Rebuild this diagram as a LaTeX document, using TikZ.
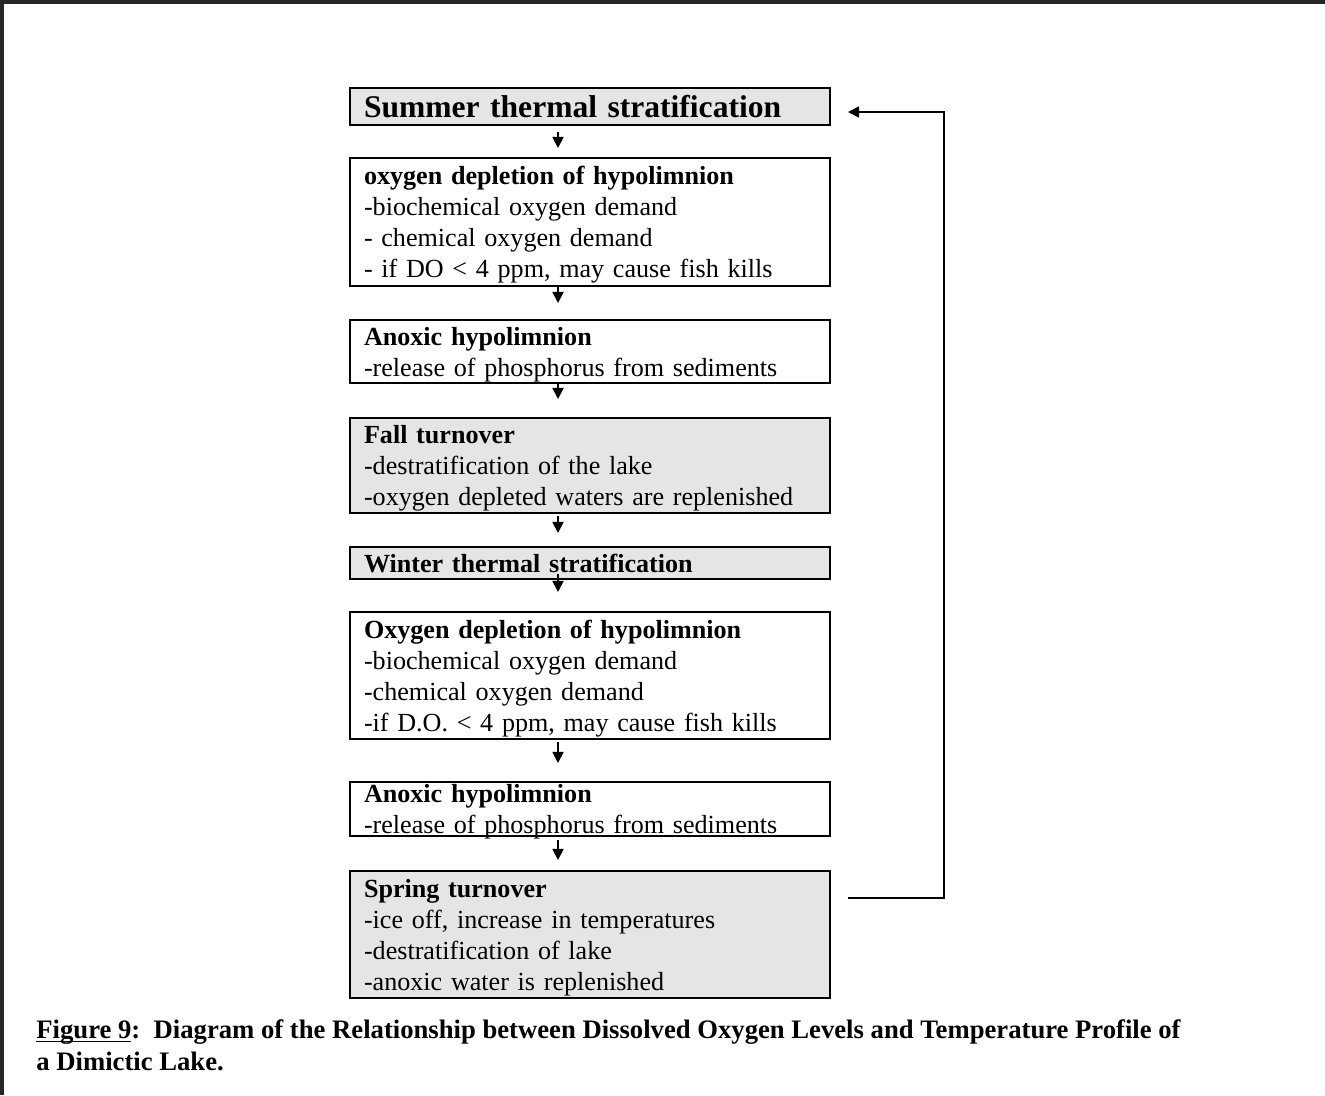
\documentclass[tikz,border=0pt]{standalone}
\usepackage{fontspec}
\setmainfont{Liberation Serif}
\usetikzlibrary{calc}
\usetikzlibrary{arrows.meta}
\newcommand{\boxend}{\endgraf\vspace{-2.5pt}}

\begin{document}
\begin{tikzpicture}[x=0.45pt, y=-0.45pt,
        box/.style={draw, line width=0.9pt, anchor=north west, text width=203.4pt,
            inner xsep=6.3pt, inner ysep=0pt, align=left,
            font=\fontsize{11.75}{13.95}\selectfont,
            execute at end node=\boxend},
        shaded/.style={box, fill=black!10},
        flow/.style={line width=0.8pt, -{Triangle[length=5pt,width=5pt]}}]

            \useasboundingbox (0,0) rectangle (1325,1095);

            %frame
            \draw[line width=1.4pt, black!85] (2,1095) -- (2,2) -- (1325,2);

            %boxes
            \node[shaded, minimum height=16.65pt, font=\fontsize{14.2}{16}\selectfont\bfseries] (summer) at (349,87) {Summer thermal stratification};
            \node[box, minimum height=57.6pt] (depl1) at (349,157) {\textbf{oxygen depletion of hypolimnion}\\-biochemical oxygen demand\\- chemical oxygen demand\\- if DO < 4 ppm, may cause fish kills};
            \node[box, minimum height=28.35pt] (anox1) at (349,319) {\textbf{Anoxic hypolimnion}\\-release of phosphorus from sediments};
            \node[shaded, minimum height=42.75pt] (fall) at (349,417) {\textbf{Fall turnover}\\-destratification of the lake\\-oxygen depleted waters are replenished};
            \node[shaded, minimum height=14.4pt] (winter) at (349,546) {\textbf{Winter thermal stratification}};
            \node[box, minimum height=57.15pt] (depl2) at (349,611) {\textbf{Oxygen depletion of hypolimnion}\\-biochemical oxygen demand\\-chemical oxygen demand\\-if D.O. < 4 ppm, may cause fish kills};
            \node[box, minimum height=24.3pt] (anox2) at (349,781) {\textbf{Anoxic hypolimnion}\\-release of phosphorus from sediments};
            \node[shaded, minimum height=57.15pt] (spring) at (349,870) {\textbf{Spring turnover}\\-ice off, increase in temperatures\\-destratification of lake\\-anoxic water is replenished};

            %arrows
            \draw[flow] ($(summer.south west)+(209,6)$) -- ($(depl1.north west)+(209,-9)$);
            \draw[flow] ($(depl1.south west)+(209,-2)$) -- ($(anox1.north west)+(209,-16)$);
            \draw[flow] ($(anox1.south west)+(209,-2)$) -- ($(fall.north west)+(209,-18)$);
            \draw[flow] ($(fall.south west)+(209,2)$) -- ($(winter.north west)+(209,-13)$);
            \draw[flow] ($(winter.south west)+(209,-6)$) -- ($(depl2.north west)+(209,-19)$);
            \draw[flow] ($(depl2.south west)+(209,2)$) -- ($(anox2.north west)+(209,-18)$);
            \draw[flow] ($(anox2.south west)+(209,3)$) -- ($(spring.north west)+(209,-10)$);

            %back to summer
            \coordinate (loop) at ($(summer.north east)+(113,25)$);
            \draw[flow] ($(spring.north east)+(17,28)$) -| (loop) -- ($(summer.north east)+(17,25)$);

            %caption
            \node[anchor=base west, align=left, inner sep=0pt, font=\fontsize{12}{14.4}\selectfont\bfseries] (caption) at (36,1070)
                {\underline{\smash{Figure 9}}:\ \ Diagram of the Relationship between Dissolved Oxygen Levels and Temperature Profile of\\a Dimictic Lake.};
        \end{tikzpicture}
\end{document}
